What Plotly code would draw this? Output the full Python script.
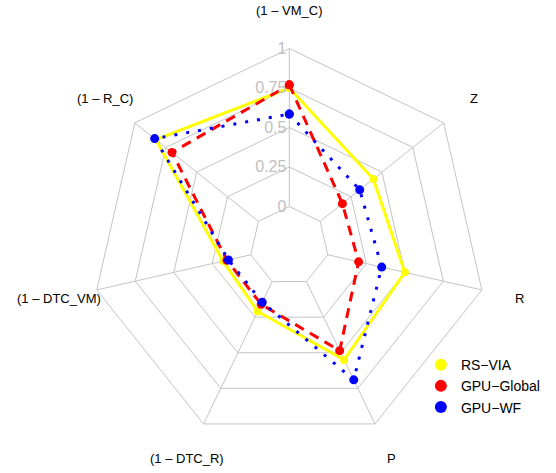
import numpy as np
import plotly.graph_objects as go

categories = ["(1 – VM_C)", "Z", "R", "P", "(1 – DTC_R)", "(1 – DTC_VM)", "(1 – R_C)"]
rs_via = [0.75, 0.43, 0.50, 0.55, 0.21, 0.18, 0.83]
gpu_global = [0.77, 0.18, 0.20, 0.485, 0.16, 0.155, 0.70]
gpu_wf = [0.585, 0.32, 0.35, 0.69, 0.145, 0.145, 0.84]
radial_ticks = [0, 0.25, 0.5, 0.75, 1]
radial_ticktext = ["0", "0.25", "0.5", "0.75", "1"]

series = [
    ("RS−VIA", rs_via, "#FFFF00", "solid", 3, 8),
    ("GPU−Global", gpu_global, "#FF0000", "10px,7px", 3, 9),
    ("GPU−WF", gpu_wf, "#0000FF", "3px,9px", 3, 9),
]

W, H = 556, 473
cx, cy, R = 289.3, 246.0, 197.5

fig = go.Figure()
for name, vals, col, dash, lw, ms in series:
    fig.add_trace(go.Scatterpolar(
        r=vals + vals[:1], theta=categories + categories[:1],
        mode="lines+markers", name=name, showlegend=False,
        line=dict(color=col, width=lw, dash=dash),
        marker=dict(color=col, size=ms),
    ))
for name, vals, col, dash, lw, ms in series:
    fig.add_trace(go.Scatterpolar(
        r=[None], theta=[None], mode="markers", name=name,
        marker=dict(color=col, size=11),
    ))

# angular labels, placed around the web at fixed pixel radius
n = len(categories)
annotations = []
for i, lab in enumerate(categories):
    ang = 2 * np.pi * i / n
    rl = 236
    x = (cx + rl * np.sin(ang)) / W
    y = 1 - (cy - rl * np.cos(ang)) / H
    annotations.append(dict(x=x, y=y, xref="paper", yref="paper", text=lab,
                            showarrow=False, xanchor="center", yanchor="middle",
                            font=dict(size=13, color="black")))

grid = "#c4c4c4"
fig.update_layout(
    width=W, height=H,
    margin=dict(l=0, r=0, t=0, b=0),
    paper_bgcolor="white",
    font=dict(family="Liberation Sans, Arial, sans-serif", color="black"),
    polar=dict(
        domain=dict(x=[(cx - R) / W, (cx + R) / W], y=[(H - cy - R) / H, (H - cy + R) / H]),
        bgcolor="white",
        gridshape="linear",
        hole=0.2,
        radialaxis=dict(range=[0, 1], tickvals=radial_ticks, ticktext=radial_ticktext,
                        angle=90, side="counterclockwise", tickangle=90,
                        showline=False, ticks="", gridcolor=grid, gridwidth=1,
                        tickfont=dict(size=16, color="#c0c0c0")),
        angularaxis=dict(rotation=90, direction="clockwise", showticklabels=False,
                         ticks="", gridcolor=grid, linecolor=grid, showline=True,
                         categoryorder="array", categoryarray=categories),
    ),
    legend=dict(x=0.757, y=0.262, xanchor="left", yanchor="top",
                font=dict(size=14), bgcolor="rgba(0,0,0,0)", tracegroupgap=0,
                itemsizing="constant"),
    annotations=annotations,
    showlegend=True,
)

fig.write_html("out.html", config={"displayModeBar": False},
               post_script="document.body.style.margin='0px';")
